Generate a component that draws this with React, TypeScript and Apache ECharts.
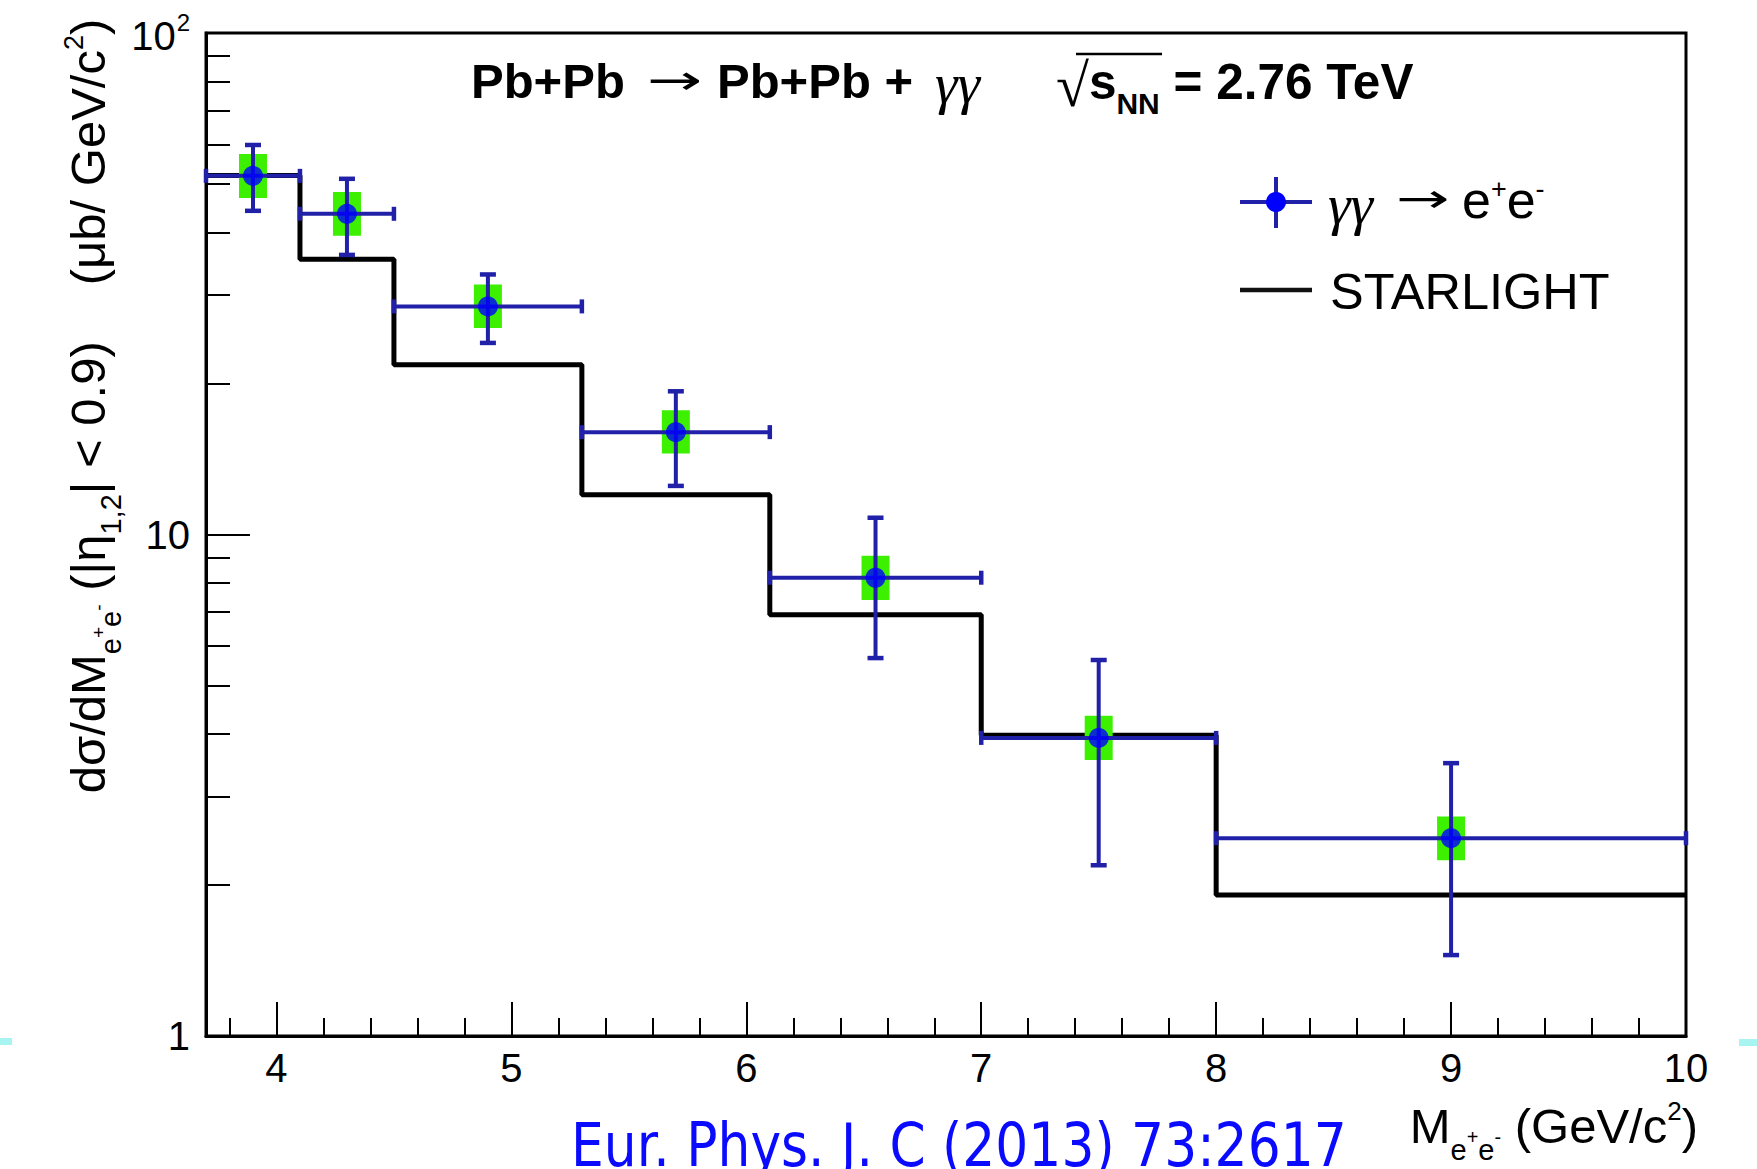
import React, { useEffect, useRef } from "react";
import * as echarts from "echarts";

// Measured dσ/dM in bins of the e+e- invariant mass (μb / GeV/c²)
const binLow = [3.7, 4.1, 4.5, 5.3, 6.1, 7.0, 8.0];
const binHigh = [4.1, 4.5, 5.3, 6.1, 7.0, 8.0, 10.0];
const massCentre = [3.9, 4.3, 4.9, 5.7, 6.55, 7.5, 9.0];
const crossSection = [51.9, 43.6, 28.5, 16.0, 8.2, 3.93, 2.48];
const statLow = [44.2, 36.1, 24.1, 12.5, 5.67, 2.19, 1.45];
const statHigh = [59.8, 51.2, 33.0, 19.3, 10.8, 5.62, 3.5];
const systLow = [46.9, 39.4, 25.8, 14.5, 7.4, 3.55, 2.24];
const systHigh = [57.4, 48.2, 31.5, 17.7, 9.07, 4.35, 2.74];

// STARLIGHT prediction: one value per bin between consecutive edges
const starlightEdges = [3.7, 4.1, 4.5, 5.3, 6.1, 7.0, 8.0, 10.0];
const starlightValues = [52.0, 35.4, 21.8, 12.0, 6.92, 3.98, 1.91];

// Axis ticks
const xMajorTicks = [4, 5, 6, 7, 8, 9, 10];
const xMinorTicks = [
  3.8, 4.2, 4.4, 4.6, 4.8, 5.2, 5.4, 5.6, 5.8, 6.2, 6.4, 6.6, 6.8,
  7.2, 7.4, 7.6, 7.8, 8.2, 8.4, 8.6, 8.8, 9.2, 9.4, 9.6, 9.8,
];
const yMajorTicks = [1, 10, 100];
const yMinorTicks = [2, 3, 4, 5, 6, 7, 8, 9, 20, 30, 40, 50, 60, 70, 80, 90];

const SANS = "'Liberation Sans', Arial, Helvetica, sans-serif";
const SERIF = "'Liberation Serif', 'Times New Roman', serif";
const ARROW = "'DejaVu Sans', sans-serif";
const NAVY = "#2020a8";
const MARKER = "#0000ff";
const SYST = "#3cf000";

// rich-text token aligned to the line bottom, raised by `raise` px
const tok = (size: number, raise: number, extra: Record<string, unknown> = {}) => ({
  fontSize: size,
  fontFamily: SANS,
  fill: "#000",
  verticalAlign: "bottom",
  padding: [0, 0, raise, 0],
  ...extra,
});

// plain single-style text element
const label = (
  x: number,
  y: number,
  text: string,
  fontSize: number,
  fontFamily: string,
  extra: Record<string, unknown> = {},
  align = "left"
) => ({
  type: "text",
  x,
  y,
  style: { text, fontSize, fontFamily, fill: "#000", align, verticalAlign: "middle", ...extra },
});

// a long, thin arrow glyph (squashed vertically)
const arrow = (x: number, y: number, fontSize: number) => ({
  ...label(x, y, "→", fontSize, ARROW, {}, "center"),
  scaleY: 0.62,
});

function buildOption() {
  const pointRows = massCentre.map((x, i) => [
    x,
    crossSection[i],
    binLow[i],
    binHigh[i],
    statLow[i],
    statHigh[i],
    systLow[i],
    systHigh[i],
  ]);
  const starlightData = starlightEdges.map((e, i) => [
    e,
    starlightValues[Math.min(i, starlightValues.length - 1)],
  ]);

  const axisFont = { fontSize: 40, fontFamily: SANS, color: "#000" };

  return {
    animation: false,
    backgroundColor: "#fff",
    grid: {
      left: 206,
      right: 71,
      top: 33,
      bottom: 133,
      show: true,
      borderColor: "#000",
      borderWidth: 3,
      containLabel: false,
      outerBoundsMode: "none",
    },
    xAxis: [
      {
        type: "value",
        min: 3.7,
        max: 10,
        position: "bottom",
        axisLine: { show: true, onZero: false, lineStyle: { color: "#000", width: 3 } },
        axisTick: {
          show: true,
          inside: true,
          length: 34,
          customValues: xMajorTicks,
          lineStyle: { color: "#000", width: 2 },
        },
        axisLabel: { ...axisFont, margin: 12, customValues: xMajorTicks },
        splitLine: { show: false },
      },
      {
        type: "value",
        min: 3.7,
        max: 10,
        position: "bottom",
        axisLine: { show: false },
        axisTick: {
          show: true,
          inside: true,
          length: 18,
          customValues: xMinorTicks,
          lineStyle: { color: "#000", width: 2 },
        },
        axisLabel: { show: false },
        splitLine: { show: false },
      },
    ],
    yAxis: [
      {
        type: "log",
        logBase: 10,
        min: 1,
        max: 100,
        position: "left",
        axisLine: { show: true, onZero: false, lineStyle: { color: "#000", width: 3 } },
        axisTick: {
          show: true,
          inside: true,
          length: 44,
          customValues: yMajorTicks,
          lineStyle: { color: "#000", width: 2 },
        },
        axisLabel: {
          ...axisFont,
          margin: 16,
          customValues: yMajorTicks,
          formatter: (v: number) => (v >= 100 ? "{b|10}{s|2}" : `{b|${Math.round(v)}}`),
          rich: {
            b: { fontSize: 40, fontFamily: SANS, color: "#000", verticalAlign: "bottom", padding: [0, 0, 0, 0] },
            s: { fontSize: 24, fontFamily: SANS, color: "#000", verticalAlign: "bottom", padding: [0, 0, 22, 1] },
          },
        },
        splitLine: { show: false },
        minorTick: { show: false },
      },
      {
        type: "log",
        logBase: 10,
        min: 1,
        max: 100,
        position: "left",
        axisLine: { show: false },
        axisTick: {
          show: true,
          inside: true,
          length: 24,
          customValues: yMinorTicks,
          lineStyle: { color: "#000", width: 2 },
        },
        axisLabel: { show: false },
        splitLine: { show: false },
      },
    ],
    series: [
      {
        name: "STARLIGHT",
        type: "line",
        xAxisIndex: 0,
        yAxisIndex: 0,
        step: "end",
        symbol: "none",
        data: starlightData,
        lineStyle: { color: "#000", width: 5 },
        z: 2,
      },
      {
        name: "errors",
        type: "custom",
        xAxisIndex: 0,
        yAxisIndex: 0,
        clip: false,
        data: pointRows,
        encode: { x: 0, y: 1 },
        z: 3,
        renderItem: (_params: any, api: any) => {
          const xc = api.value(0);
          const y = api.value(1);
          const c = api.coord([xc, y]);
          const lo = api.coord([api.value(2), y]);
          const hi = api.coord([api.value(3), y]);
          const sLo = api.coord([xc, api.value(4)]);
          const sHi = api.coord([xc, api.value(5)]);
          const yLo = api.coord([xc, api.value(6)]);
          const yHi = api.coord([xc, api.value(7)]);
          const line = { stroke: NAVY, lineWidth: 4 };
          const cap = { stroke: NAVY, lineWidth: 4.5 };
          return {
            type: "group",
            children: [
              {
                type: "rect",
                shape: { x: c[0] - 14, y: yHi[1], width: 28, height: yLo[1] - yHi[1] },
                style: { fill: SYST },
              },
              { type: "line", shape: { x1: lo[0], y1: c[1], x2: hi[0], y2: c[1] }, style: line },
              { type: "line", shape: { x1: c[0], y1: sHi[1], x2: c[0], y2: sLo[1] }, style: line },
              { type: "line", shape: { x1: c[0] - 8, y1: sHi[1], x2: c[0] + 8, y2: sHi[1] }, style: cap },
              { type: "line", shape: { x1: c[0] - 8, y1: sLo[1], x2: c[0] + 8, y2: sLo[1] }, style: cap },
              { type: "line", shape: { x1: lo[0], y1: c[1] - 7, x2: lo[0], y2: c[1] + 7 }, style: cap },
              { type: "line", shape: { x1: hi[0], y1: c[1] - 7, x2: hi[0], y2: c[1] + 7 }, style: cap },
            ],
          };
        },
      },
      {
        name: "γγ → e+e-",
        type: "scatter",
        xAxisIndex: 0,
        yAxisIndex: 0,
        data: massCentre.map((x, i) => [x, crossSection[i]]),
        symbol: "circle",
        symbolSize: 20,
        itemStyle: { color: MARKER },
        z: 4,
      },
    ],
    graphic: [
      // header: Pb+Pb → Pb+Pb + γγ
      label(471, 81, "Pb+Pb", 49, SANS, { fontWeight: "bold" }),
      arrow(675, 80, 66),
      label(717, 81, "Pb+Pb +", 49, SANS, { fontWeight: "bold" }),
      label(935, 83, "γγ", 57, SERIF, { fontStyle: "italic" }),
      // header: √s_NN = 2.76 TeV
      {
        type: "text",
        x: 1056,
        y: 126,
        style: {
          text: "{r|√}{b|s}{n|NN}{b| = 2.76 TeV}",
          verticalAlign: "bottom",
          align: "left",
          rich: {
            r: tok(60, 10, { fontFamily: SERIF }),
            b: tok(49.5, 20, { fontWeight: "bold" }),
            n: tok(30, 8, { fontWeight: "bold" }),
          },
        },
      },
      {
        type: "line",
        shape: { x1: 1076, y1: 54, x2: 1162, y2: 54 },
        style: { stroke: "#000", lineWidth: 2.5 },
      },
      // y-axis title
      {
        type: "text",
        x: 132,
        y: 406,
        rotation: Math.PI / 2,
        style: {
          text:
            "{m|dσ/dM}{s|e}{p|+}{s|e}{p|-}{m| (|η}{s|1,2}{m|| < 0.9)}{gap| }{m|(μb/ GeV/c}{q|2}{m|)}",
          align: "center",
          verticalAlign: "bottom",
          rich: {
            m: tok(49, 20),
            s: tok(29, 7),
            p: tok(19, 24),
            q: tok(27, 45),
            gap: tok(49, 20, { width: 56 }),
          },
        },
      },
      // x-axis title
      {
        type: "text",
        x: 1698,
        y: 1170,
        style: {
          text: "{m|M}{s|e}{p|+}{s|e}{p|-}{m| (GeV/c}{q|2}{m|)}",
          align: "right",
          verticalAlign: "bottom",
          rich: {
            m: tok(49, 20),
            s: tok(29, 6),
            p: tok(20, 23),
            q: tok(26, 46),
          },
        },
      },
      // legend: data entry
      {
        type: "line",
        shape: { x1: 1240, y1: 202, x2: 1312, y2: 202 },
        style: { stroke: NAVY, lineWidth: 4 },
      },
      {
        type: "line",
        shape: { x1: 1276, y1: 177, x2: 1276, y2: 228 },
        style: { stroke: NAVY, lineWidth: 4 },
      },
      {
        type: "circle",
        shape: { cx: 1276, cy: 202, r: 10 },
        style: { fill: MARKER },
      },
      label(1328, 204, "γγ", 57, SERIF, { fontStyle: "italic" }),
      arrow(1423, 199, 64),
      {
        type: "text",
        x: 1462,
        y: 246,
        style: {
          text: "{m|e}{q|+}{m|e}{q|-}",
          align: "left",
          verticalAlign: "bottom",
          rich: {
            m: tok(52, 20),
            q: tok(27, 44),
          },
        },
      },
      // legend: STARLIGHT entry
      {
        type: "line",
        shape: { x1: 1240, y1: 290, x2: 1312, y2: 290 },
        style: { stroke: "#111", lineWidth: 4.5 },
      },
      label(1330, 291, "STARLIGHT", 50.5, SANS),
      // reference
      {
        type: "text",
        x: 571,
        y: 1145,
        scaleX: 0.865,
        style: {
          text: "Eur. Phys. J. C (2013) 73:2617",
          fontSize: 60,
          fontFamily: "'DejaVu Sans', sans-serif",
          fill: "#0a0aff",
          align: "left",
          verticalAlign: "middle",
        },
      },
      // slide edge marks
      { type: "rect", shape: { x: 0, y: 1038, width: 12, height: 7 }, style: { fill: "#a8f4f0" } },
      { type: "rect", shape: { x: 1739, y: 1039, width: 18, height: 7 }, style: { fill: "#a8f4f0" } },
    ],
  };
}

export default function App() {
  const ref = useRef<HTMLDivElement>(null);
  useEffect(() => {
    if (!ref.current) return;
    const chart = echarts.init(ref.current, null, { renderer: "svg" });
    chart.setOption(buildOption() as any);
    return () => chart.dispose();
  }, []);
  return (
    <div
      ref={ref}
      style={{ position: "fixed", left: 0, top: 0, width: 1757, height: 1169, background: "#fff" }}
    />
  );
}
